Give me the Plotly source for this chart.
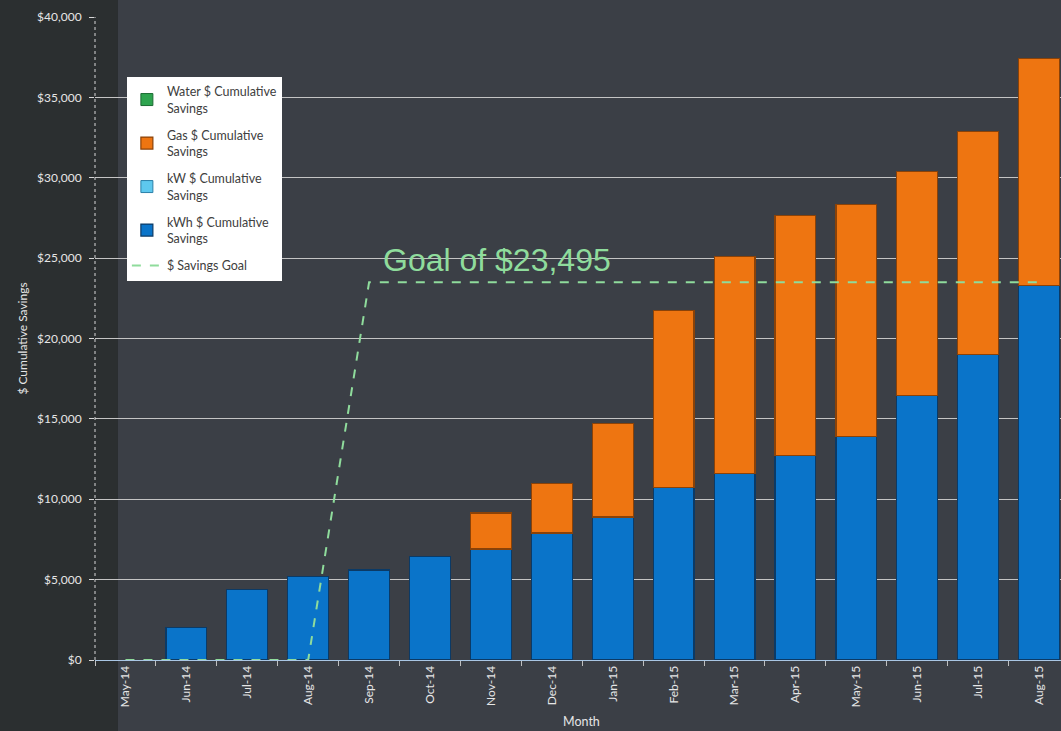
import plotly.graph_objects as go

months = ["May-14", "Jun-14", "Jul-14", "Aug-14", "Sep-14", "Oct-14", "Nov-14", "Dec-14",
          "Jan-15", "Feb-15", "Mar-15", "Apr-15", "May-15", "Jun-15", "Jul-15", "Aug-15"]
kwh_savings = [0, 2000, 4400, 5200, 5600, 6450, 6900, 7900,
               8900, 10750, 11600, 12700, 13900, 16450, 19000, 23300]
kw_savings = [0] * 16
gas_savings = [0, 0, 0, 0, 0, 0, 2250, 3100,
               5800, 11000, 13500, 14950, 14450, 13950, 13900, 14100]
water_savings = [0] * 16
savings_goal = [0, 0, 0, 0, 23495, 23495, 23495, 23495,
                23495, 23495, 23495, 23495, 23495, 23495, 23495, 23495]
y_ticks = [0, 5000, 10000, 15000, 20000, 25000, 30000, 35000, 40000]

BLUE = "#0a74c9"
ORANGE = "#ee7511"
GREEN = "#8fdc9c"
TEXT = "#e6e6e6"
FONT = "Lato"


def no_zero(values):
    # zero-height bars would still draw an outline, Excel draws nothing
    return [v if v else None for v in values]


fig = go.Figure()

fig.add_trace(go.Bar(x=months, y=no_zero(kwh_savings), name="kWh $ Cumulative<br>Savings",
                     marker=dict(color=BLUE, line=dict(color="#0b3a66", width=1.2)),
                     legendgroup="d", legendrank=4))
fig.add_trace(go.Bar(x=months, y=no_zero(kw_savings), name="kW $ Cumulative<br>Savings",
                     marker=dict(color="#5ec8ee", line=dict(color="#2a7fa8", width=1)),
                     legendgroup="c", legendrank=3))
fig.add_trace(go.Bar(x=months, y=no_zero(gas_savings), name="Gas $ Cumulative<br>Savings",
                     marker=dict(color=ORANGE, line=dict(color="#8a4208", width=1.2)),
                     legendgroup="b", legendrank=2))
fig.add_trace(go.Bar(x=months, y=no_zero(water_savings), name="Water $ Cumulative<br>Savings",
                     marker=dict(color="#2ea44f", line=dict(color="#1b6a32", width=1)),
                     legendgroup="a", legendrank=1))
fig.add_trace(go.Scatter(x=months, y=savings_goal, name="$ Savings Goal", mode="lines",
                         line=dict(color=GREEN, width=2, dash="dash"),
                         legendgroup="e", legendrank=5))

fig.add_annotation(x=6.1, y=24900, text="Goal of $23,495", showarrow=False,
                   font=dict(family="Liberation Sans", size=32, color=GREEN),
                   xanchor="center", yanchor="middle")

fig.add_annotation(x=0.504, y=-0.096, xref="paper", yref="paper", text="Month",
                   showarrow=False, xanchor="center", yanchor="middle",
                   font=dict(family=FONT, size=12.5, color=TEXT))

# chalkboard panel and dotted value axis
fig.add_shape(type="rect", xref="paper", yref="paper", x0=0.0238, x1=1.0, y0=-0.12, y1=1.03,
              fillcolor="#3b3f46", line=dict(width=0), layer="below")
fig.add_shape(type="line", xref="paper", yref="paper", x0=0, x1=0, y0=0, y1=1,
              line=dict(color="#d8d8d8", width=1, dash="dot"))

fig.update_layout(
    barmode="stack",
    bargap=0.33,
    width=1061,
    height=731,
    margin=dict(l=95, r=0, t=17, b=71),
    paper_bgcolor="#2b2f30",
    plot_bgcolor="rgba(0,0,0,0)",
    font=dict(family=FONT, size=12, color=TEXT),
    showlegend=True,
    legend=dict(
        x=0.033, y=0.907, xanchor="left", yanchor="top",
        bgcolor="white", font=dict(family=FONT, size=12.5, color="#404040"),
        traceorder="grouped", tracegroupgap=8, itemwidth=30,
    ),
    xaxis=dict(
        range=[-0.5, 15.36],
        tickangle=-90,
        tickfont=dict(family=FONT, size=12, color=TEXT),
        showline=True, linecolor="#a9c6e4", linewidth=1,
        ticks="outside", tickson="boundaries", ticklen=5, tickcolor="#bfbfbf",
        showgrid=False,
    ),
    yaxis=dict(
        range=[0, 40000],
        tickvals=y_ticks,
        ticktext=["${:,}".format(v) for v in y_ticks],
        tickfont=dict(family=FONT, size=12, color=TEXT),
        ticklabelstandoff=5,
        title=dict(text="$ Cumulative Savings", standoff=6,
                   font=dict(family=FONT, size=12, color=TEXT)),
        showgrid=True, gridcolor="#c4c4c4", gridwidth=1,
        ticks="outside", ticklen=5, tickcolor="#d8d8d8",
        zeroline=False,
    ),
)

fig.write_html("out.html", config={"displayModeBar": False},
               post_script="document.body.style.margin = '0';")
